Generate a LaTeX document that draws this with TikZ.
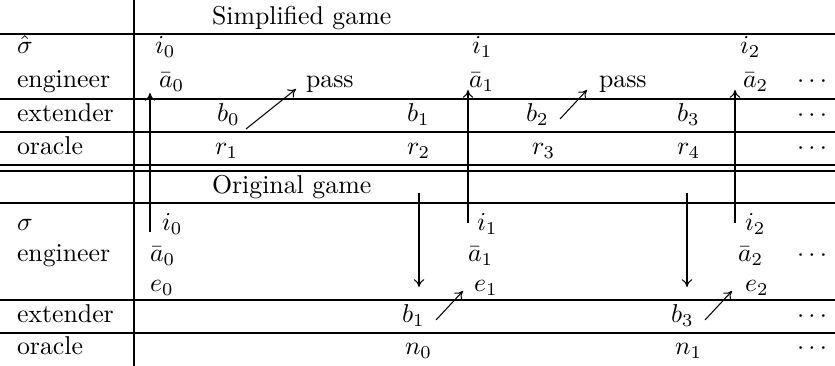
\documentclass[tikz,border=0pt]{standalone}
\usetikzlibrary{arrows.meta}
\begin{document}
\begin{tikzpicture}[x=0.3875pt,y=-0.3875pt,
  lbl/.style={anchor=base west,inner sep=0pt,outer sep=0pt},
  rule/.style={line width=0.4pt},
  arr/.style={line width=0.4pt,-{To[length=3pt,width=4pt]}}]
\useasboundingbox (0,0) rectangle (835,366);
% rules
\draw[rule] (134,0) -- (134,366);
\foreach \yy in {34,99,132,165,171,203,300,333}
  \draw[rule] (0,\yy) -- (835,\yy);
% Simplified game
\node[lbl] (sg) at (212,25) {Simplified game};
\node[lbl] (sh) at (17,54) {$\hat\sigma$};
\node[lbl] (se) at (17,88) {engineer};
\node[lbl] (sx) at (17,122) {extender};
\node[lbl] (so) at (17,155) {oracle};
\node[lbl] (si0) at (155,54) {$i_0$};
\node[lbl] (si1) at (472,54) {$i_1$};
\node[lbl] (si2) at (740,54) {$i_2$};
\node[lbl] (sa0) at (159,88) {$\bar a_0$};
\node[lbl] (sp1) at (306,88) {pass};
\node[lbl] (sa1) at (469,88) {$\bar a_1$};
\node[lbl] (sp2) at (599,88) {pass};
\node[lbl] (sa2) at (743,88) {$\bar a_2$};
\node[lbl] (sd1) at (797,88) {$\cdots$};
\node[lbl] (sb0) at (217,122) {$b_0$};
\node[lbl] (sb1) at (407,122) {$b_1$};
\node[lbl] (sb2) at (526,122) {$b_2$};
\node[lbl] (sb3) at (677,122) {$b_3$};
\node[lbl] (sd2) at (797,122) {$\cdots$};
\node[lbl] (sr1) at (215,155) {$r_1$};
\node[lbl] (sr2) at (407,155) {$r_2$};
\node[lbl] (sr3) at (532,155) {$r_3$};
\node[lbl] (sr4) at (677,155) {$r_4$};
\node[lbl] (sd3) at (797,155) {$\cdots$};
% Original game
\node[lbl] (og) at (212,194) {Original game};
\node[lbl] (os) at (17,231) {$\sigma$};
\node[lbl] (oe) at (17,262) {engineer};
\node[lbl] (ox) at (17,323) {extender};
\node[lbl] (oo) at (17,355) {oracle};
\node[lbl] (oi0) at (162,231) {$i_0$};
\node[lbl] (oi1) at (477,231) {$i_1$};
\node[lbl] (oi2) at (745,231) {$i_2$};
\node[lbl] (oa0) at (150,262) {$\bar a_0$};
\node[lbl] (oa1) at (468,262) {$\bar a_1$};
\node[lbl] (oa2) at (738,262) {$\bar a_2$};
\node[lbl] (od1) at (797,262) {$\cdots$};
\node[lbl] (oe0) at (150,292) {$e_0$};
\node[lbl] (oe1) at (474,292) {$e_1$};
\node[lbl] (oe2) at (745,292) {$e_2$};
\node[lbl] (ob1) at (402,323) {$b_1$};
\node[lbl] (ob3) at (671,323) {$b_3$};
\node[lbl] (od2) at (797,323) {$\cdots$};
\node[lbl] (on0) at (405,355) {$n_0$};
\node[lbl] (on1) at (675,355) {$n_1$};
\node[lbl] (od3) at (797,355) {$\cdots$};
% arrow end points
\coordinate (u1s) at (150,232); \coordinate (u1e) at (150,93);
\coordinate (u2s) at (468,223); \coordinate (u2e) at (468,90);
\coordinate (u3s) at (735,223); \coordinate (u3e) at (735,90);
\coordinate (d1s) at (419,193); \coordinate (d1e) at (419,287);
\coordinate (d2s) at (687,193); \coordinate (d2e) at (687,287);
\coordinate (p1s) at (246,129); \coordinate (p1e) at (296,89);
\coordinate (p2s) at (560,119); \coordinate (p2e) at (587,90);
\coordinate (q1s) at (436,320); \coordinate (q1e) at (463,291);
\coordinate (q2s) at (705,320); \coordinate (q2e) at (732,291);
\foreach \a in {u1,u2,u3,d1,d2,p1,p2,q1,q2}
  \draw[arr] (\a s) -- (\a e);
\end{tikzpicture}
\end{document}
